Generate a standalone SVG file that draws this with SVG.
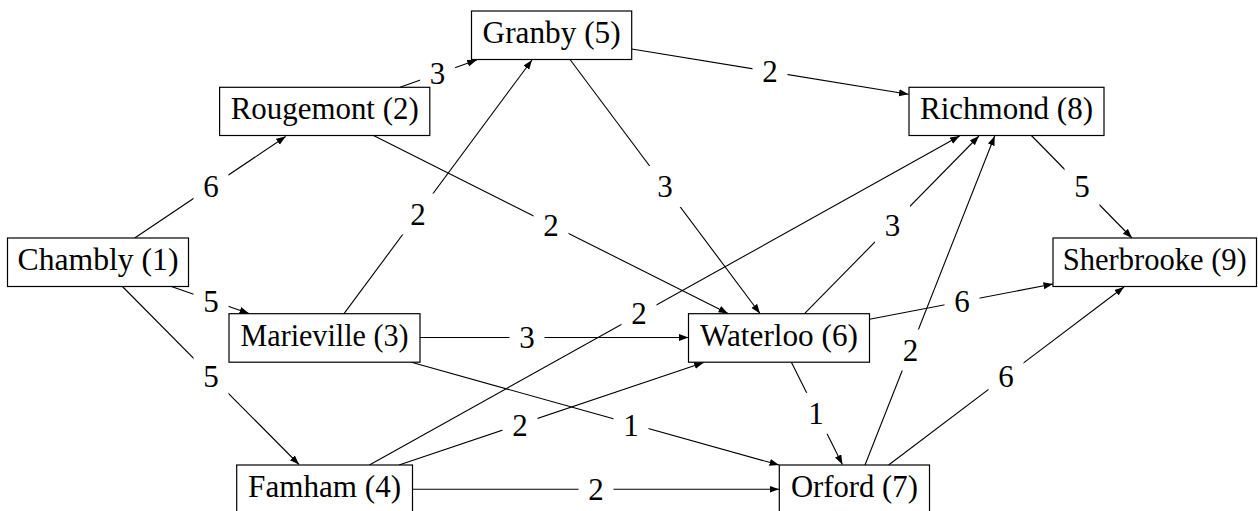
<svg xmlns="http://www.w3.org/2000/svg" width="1258" height="511" viewBox="0 0 1258 511">
<style>
.box{fill:#fff;stroke:#000;stroke-width:1.2}
.nt{font-family:'Liberation Serif','DejaVu Serif',serif;font-size:31px;text-anchor:middle;fill:#000}
.e{fill:none;stroke:#000;stroke-width:1.1;marker-end:url(#ah)}
.lb{fill:#fff;stroke:none}
.lt{font-family:'Liberation Serif','DejaVu Serif',serif;font-size:31px;text-anchor:middle;fill:#000}
</style>
<defs>
<marker id="ah" markerUnits="userSpaceOnUse" markerWidth="10" markerHeight="8" refX="9.5" refY="3.5" orient="auto">
<path d="M0,0 L9.5,3.5 L0,7 Z" fill="#000"/>
</marker>
</defs>
<rect width="1258" height="511" fill="#fff"/>
<g id="connectors">
<path class="e" d="M134.7,238 L285.7,136.5"/>
<path class="e" d="M171.4,286.5 L249,313.5"/>
<path class="e" d="M122.4,286.5 L299,464.5"/>
<path class="e" d="M400,87.3 L476.7,60"/>
<path class="e" d="M373.5,135.5 L728,313.5"/>
<path class="e" d="M344,313.7 L532,60"/>
<path class="e" d="M420,337.5 L688.5,337.5"/>
<path class="e" d="M411.4,362.3 L779,465"/>
<path class="e" d="M369.4,465 L959.6,136"/>
<path class="e" d="M399,465 L703.7,362.5"/>
<path class="e" d="M412.5,489.3 L779,489.3"/>
<path class="e" d="M631.7,49 L908.5,94.3"/>
<path class="e" d="M570,59.5 L760,313.5"/>
<path class="e" d="M804.5,313.7 L979,136"/>
<path class="e" d="M865,465 L994.7,136"/>
<path class="e" d="M869.5,319.3 L1053,284"/>
<path class="e" d="M791.4,362.3 L842.4,464.5"/>
<path class="e" d="M888.6,465 L1124,287"/>
<path class="e" d="M1031.4,135.5 L1132,238"/>
<g id="edge-labels">
<rect class="lb" x="193.5" y="166.2" width="35" height="41"/><text class="lt" x="211" y="197.2">6</text>
<rect class="lb" x="193.5" y="281.2" width="35" height="41"/><text class="lt" x="211" y="312.2">5</text>
<rect class="lb" x="193.5" y="356.2" width="35" height="41"/><text class="lt" x="211" y="387.2">5</text>
<rect class="lb" x="420.1" y="52.5" width="35" height="41"/><text class="lt" x="437.6" y="83.5">3</text>
<rect class="lb" x="533.5" y="204.5" width="35" height="41"/><text class="lt" x="551" y="235.5">2</text>
<rect class="lb" x="400.5" y="193.5" width="35" height="41"/><text class="lt" x="418" y="224.5">2</text>
<rect class="lb" x="509.5" y="316.5" width="35" height="41"/><text class="lt" x="527" y="347.5">3</text>
<rect class="lb" x="613.5" y="404.5" width="35" height="41"/><text class="lt" x="631" y="435.5">1</text>
<rect class="lb" x="621.5" y="292.5" width="35" height="41"/><text class="lt" x="639" y="323.5">2</text>
<rect class="lb" x="502.5" y="404.5" width="35" height="41"/><text class="lt" x="520" y="435.5">2</text>
<rect class="lb" x="578.5" y="468.8" width="35" height="41"/><text class="lt" x="596" y="499.8">2</text>
<rect class="lb" x="752.5" y="51.2" width="35" height="41"/><text class="lt" x="770" y="82.2">2</text>
<rect class="lb" x="647.5" y="166" width="35" height="41"/><text class="lt" x="665" y="197">3</text>
<rect class="lb" x="875" y="204.5" width="35" height="41"/><text class="lt" x="892.5" y="235.5">3</text>
<rect class="lb" x="893.1" y="329.5" width="35" height="41"/><text class="lt" x="910.6" y="360.5">2</text>
<rect class="lb" x="944.5" y="281.2" width="35" height="41"/><text class="lt" x="962" y="312.2">6</text>
<rect class="lb" x="798.5" y="392.8" width="35" height="41"/><text class="lt" x="816" y="423.8">1</text>
<rect class="lb" x="988.5" y="356.2" width="35" height="41"/><text class="lt" x="1006" y="387.2">6</text>
<rect class="lb" x="1064.5" y="166" width="35" height="41"/><text class="lt" x="1082" y="197">5</text>
</g>
</g>
<g id="chambly"><rect class="box" x="7.5" y="238" width="181" height="48.5"/><text class="nt" x="98" y="270" textLength="161" lengthAdjust="spacingAndGlyphs">Chambly (1)</text></g>
<g id="rougemont"><rect class="box" x="219.6" y="87.3" width="210.2" height="48.2"/><text class="nt" x="324.7" y="119.4" textLength="188" lengthAdjust="spacingAndGlyphs">Rougemont (2)</text></g>
<g id="marieville"><rect class="box" x="229" y="313.7" width="191" height="48.5"/><text class="nt" x="324.5" y="346" textLength="168" lengthAdjust="spacingAndGlyphs">Marieville (3)</text></g>
<g id="famham"><rect class="box" x="236.7" y="465" width="175.8" height="48.5"/><text class="nt" x="324.6" y="497.3" textLength="153" lengthAdjust="spacingAndGlyphs">Famham (4)</text></g>
<g id="granby"><rect class="box" x="471.5" y="11" width="160.2" height="48.5"/><text class="nt" x="551.6" y="43.3" textLength="138" lengthAdjust="spacingAndGlyphs">Granby (5)</text></g>
<g id="waterloo"><rect class="box" x="688.5" y="313.7" width="181" height="48.5"/><text class="nt" x="779" y="346" textLength="158" lengthAdjust="spacingAndGlyphs">Waterloo (6)</text></g>
<g id="orford"><rect class="box" x="779.3" y="465" width="150.2" height="48.5"/><text class="nt" x="854.4" y="497.3" textLength="127" lengthAdjust="spacingAndGlyphs">Orford (7)</text></g>
<g id="richmond"><rect class="box" x="909" y="87.3" width="195" height="48.2"/><text class="nt" x="1006.5" y="119.4" textLength="173" lengthAdjust="spacingAndGlyphs">Richmond (8)</text></g>
<g id="sherbrooke"><rect class="box" x="1053" y="238" width="203.5" height="48.5"/><text class="nt" x="1154.8" y="270" textLength="184" lengthAdjust="spacingAndGlyphs">Sherbrooke (9)</text></g>
</svg>
